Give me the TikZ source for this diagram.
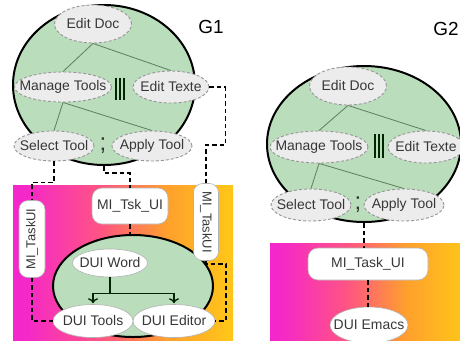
\documentclass[tikz,border=0pt]{standalone}
\usepackage{fontspec}
\setmainfont{Liberation Sans}
\usetikzlibrary{shapes.geometric,arrows.meta,calc}
\pgfdeclarelayer{bg}\pgfdeclarelayer{mid}\pgfsetlayers{bg,mid,main}
\definecolor{tgreen}{RGB}{186,221,188}
\definecolor{taskfill}{RGB}{236,236,236}
\definecolor{taskline}{RGB}{150,150,150}
\definecolor{txtgray}{RGB}{55,55,55}
\definecolor{treeline}{RGB}{95,125,95}
\definecolor{cmag}{RGB}{232,25,232}
\definecolor{cmagb}{RGB}{245,40,200}
\definecolor{cpink}{RGB}{255,85,130}
\definecolor{corange}{RGB}{255,160,45}
\definecolor{cyellow}{RGB}{255,225,10}
\pgfdeclarehorizontalshading{magyel}{100bp}{color(0bp)=(cmag); color(28bp)=(cmagb); color(45bp)=(cpink); color(60bp)=(corange); color(85bp)=(cyellow); color(100bp)=(cyellow)}
\newcommand\ZW[1]{\makebox[0pt]{#1}}
\begin{document}
\begin{tikzpicture}[x=1bp,y=-1bp,
  every node/.style={font=\fontsize{14}{16}\selectfont, text=txtgray},
  task/.style={ellipse, draw=taskline, fill=taskfill, line width=0.9bp, dash pattern=on 3bp off 2bp, inner sep=0pt},
  uinode/.style={ellipse, draw=gray!60, fill=white, line width=0.6bp, inner sep=0pt},
  uirect/.style={rectangle, draw=gray!60, fill=white, line width=0.6bp, inner sep=0pt},
  tmodel/.style={ellipse, draw=black, line width=2bp, fill=tgreen, inner sep=0pt},
  tree/.style={draw=treeline, line width=0.8bp},
  bars/.style={draw=black!85!green, line width=2bp},
  conn/.style={draw=black, line width=1.8bp, dash pattern=on 4.5bp off 3bp},
  treearrow/.style={draw=black!85!green, line width=1.3bp},
  opsym/.style={font=\fontsize{24}{24}\selectfont, text=black!80},
  glabel/.style={font=\fontsize{19}{19}\selectfont, text=black}
]
\useasboundingbox (0,0) rectangle (460,340);
\begin{pgfonlayer}{bg}
  \fill[white] (0,0) rectangle (460,340);
  \shade[shading=magyel] (13,185) rectangle (233,340);
  \shade[shading=magyel] (270,243) rectangle (465,345);
  \node[tmodel, minimum width=182bp, minimum height=160bp] (T1) at (104,85) {};
  \node[tmodel, minimum width=194bp, minimum height=156bp] (T2) at (364,144) {};
  \node[tmodel, minimum width=160bp, minimum height=102bp] (E1) at (133,286) {};
\end{pgfonlayer}

% ---------- G1 task model ----------
\node[task, minimum width=77bp, minimum height=38bp] (ED1) at (93,24) {\ZW{Edit Doc}};
\node[task, minimum width=97bp, minimum height=30bp] (MT1) at (63,87) {\ZW{Manage Tools}};
\node[task, minimum width=76bp, minimum height=32bp] (ET1) at (171,87) {\ZW{Edit Texte}};
\node[task, minimum width=80bp, minimum height=30bp] (ST1) at (54,146) {\ZW{Select Tool}};
\node[task, minimum width=80bp, minimum height=30bp] (AT1) at (152,146) {\ZW{Apply Tool}};
\node[opsym] (SC1) at (103,146) {;};
\draw[bars] (115.5,78) -- (115.5,100) (119.5,78) -- (119.5,100) (123.5,78) -- (123.5,100);
\node[glabel] (G1) at (211,27) {G1};

% ---------- G1 UI ----------
\node[uirect, minimum width=76bp, minimum height=36bp, rounded corners=10bp] (MT) at (130,206) {\ZW{MI\_Tsk\_UI}};
\node[uirect, minimum width=77bp, minimum height=26bp, rounded corners=9bp, rotate=90, font=\fontsize{13}{15}\selectfont] (MIL) at (32,239) {\ZW{MI\_TaskUI}};
\node[uirect, minimum width=77bp, minimum height=25bp, rounded corners=9bp, rotate=-90, font=\fontsize{13}{15}\selectfont] (MIR) at (206,222) {\ZW{MI\_TaskUI}};
\node[uinode, minimum width=75bp, minimum height=28bp] (DW) at (110,263) {\ZW{DUI Word}};
\node[uinode, minimum width=80bp, minimum height=33bp] (DT) at (93,321) {\ZW{DUI Tools}};
\node[uinode, minimum width=82bp, minimum height=33bp] (DE) at (174,321) {\ZW{DUI Editor}};

% ---------- G2 task model ----------
\node[task, minimum width=77bp, minimum height=38bp] (ED2) at (348,86) {\ZW{Edit Doc}};
\node[task, minimum width=98bp, minimum height=32bp] (MT2) at (319,147) {\ZW{Manage Tools}};
\node[task, minimum width=76bp, minimum height=32bp] (ET2) at (426,147) {\ZW{Edit Texte}};
\node[task, minimum width=80bp, minimum height=32bp] (ST2) at (311,205) {\ZW{Select Tool}};
\node[task, minimum width=80bp, minimum height=32bp] (AT2) at (404,205) {\ZW{Apply Tool}};
\node[opsym] (SC2) at (358,205) {;};
\draw[bars] (374.5,134) -- (374.5,158) (378.5,134) -- (378.5,158) (382.5,134) -- (382.5,158);
\node[glabel] (G2) at (446,29) {G2};

% ---------- G2 UI ----------
\node[uirect, minimum width=120bp, minimum height=32bp, rounded corners=10bp] (M2) at (368,264) {\ZW{MI\_Task\_UI}};
\node[uinode, minimum width=78bp, minimum height=36bp] (DEm) at (369,325) {\ZW{DUI Emacs}};

% ---------- tree lines ----------
\begin{pgfonlayer}{mid}
  \draw[tree] (ED1.south) -- (MT1.north) (ED1.south) -- (ET1.north);
  \draw[tree] (MT1.south) -- (ST1.north) (MT1.south) -- (AT1.north);
  \draw[tree] (ED2.south) -- (MT2.north) (ED2.south) -- (ET2.north);
  \draw[tree] (MT2.south) -- (ST2.north) (MT2.south) -- (AT2.north);
\end{pgfonlayer}

% ---------- DUI tree ----------
\coordinate (J) at ($(DW.south)+(0,16)$);
\draw[treearrow] (DW.south) -- (J);
\draw[treearrow] (J -| DT.north) -- (J -| DE.north);
\draw[treearrow, -{To[length=5bp,width=10bp]}] (J -| DT.north) -- ($(DT.north)+(0,-1)$);
\draw[treearrow, -{To[length=5bp,width=10bp]}] (J -| DE.north) -- ($(DE.north)+(0,-1)$);

% ---------- mapping connectors ----------
\draw[conn] (ET1.east) -- ++(16,0) -- ++(0,58) -| (MIR.west);
\draw[conn] (MIR.east) -- ++(0,3) -- ++(20,0) |- (DE.east);
\draw[conn] (ST1.south) -- ++(0,21) -| (MIL.east);
\draw[conn] (MIL.west) |- (DT.west);
\draw[conn] (T1.south) -- ++(0,7) -| (MT.north);
\draw[conn] (MT.south) -- (MT.south |- E1.north);
\draw[conn] (T2.south) -- (T2.south |- M2.north);
\draw[conn] (M2.south) -- (M2.south |- DEm.north);
\end{tikzpicture}
\end{document}
